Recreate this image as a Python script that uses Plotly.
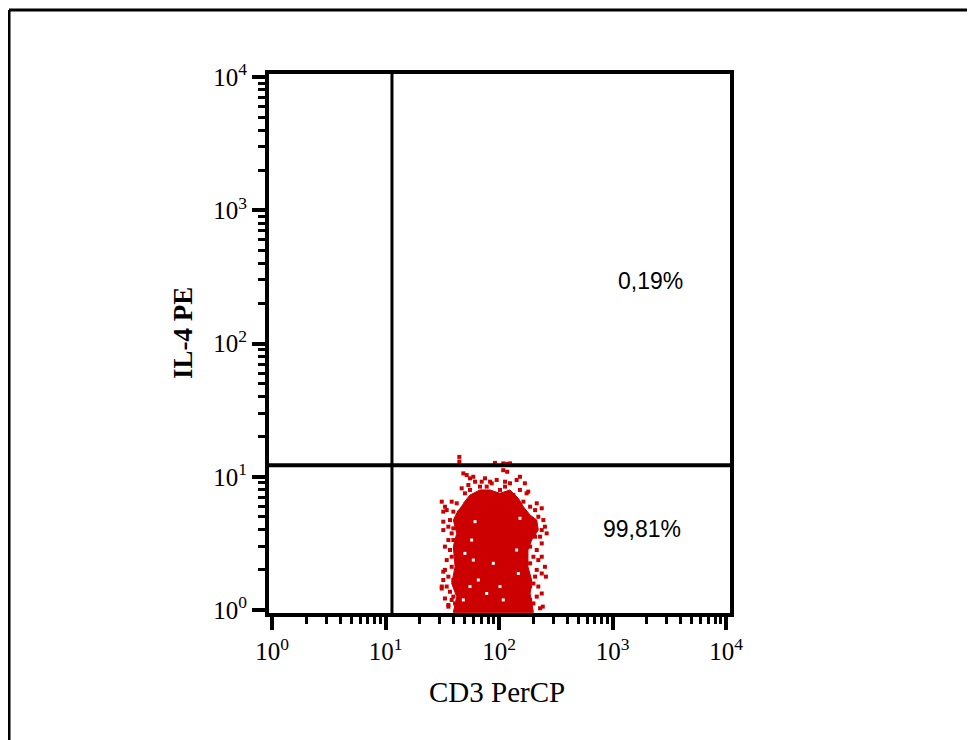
import math
import plotly.graph_objects as go

# ---- data ----
# dense core of the event cloud (outline), CD3 PerCP vs IL-4 PE intensities
core_cd3 = [48.5, 55.5, 68.0, 83.4, 102, 125, 148, 164, 188, 215, 222, 194, 180, 180, 194, 188, 201,
            39.6, 42.4, 38.3, 41.0, 39.6, 42.4, 39.6, 43.8]
core_il4 = [6.32, 7.29, 7.96, 7.96, 7.51, 7.96, 6.89, 5.96, 5.16, 4.73, 3.98, 3.35, 2.82, 2.11, 1.68, 1.33, 0.96,
            0.96, 1.26, 1.58, 2.11, 2.99, 3.76, 4.73, 5.62]
# scattered single events around the core
evt_cd3 = [44.7, 44.7, 92.2, 109, 118, 125, 109, 118, 51.9, 55.5, 61.5, 70.4, 83.4, 125, 153, 181, 50.1,
           55.5, 102, 134, 31.3, 33.4, 34.6, 39.6, 32.3, 37.0, 38.3, 37.0, 38.3, 33.4, 32.3, 34.6, 39.6,
           41.0, 215, 222, 246, 254, 230, 222, 254, 259, 238, 243, 208, 188, 188, 46.9, 153, 35.8, 31.3,
           48.5, 59.4, 75.3, 86.2, 95.4, 113, 143, 169, 68.0, 77.9, 113, 153, 175, 53.7, 46.9, 95.4, 121,
           138, 164,
           38.3, 42.4, 32.3, 43.8, 35.8, 32.3, 39.6, 35.8, 33.4, 39.6, 34.6, 38.3, 32.3, 35.8, 39.6, 31.3,
           37.0, 33.4, 38.3, 35.8, 42.4,
           188, 208, 238, 201, 238, 263, 208, 238, 188, 215, 201, 238, 188, 215, 238, 201, 222, 175, 215,
           201, 230]
evt_il4 = [14.1, 13.0, 12.7, 12.6, 12.5, 12.6, 11.2, 10.9, 10.3, 9.73, 9.18, 9.18, 9.18, 8.93, 10.0, 7.73, 7.51,
           7.96, 7.96, 7.29, 6.50, 5.96, 5.62, 5.47, 4.60, 4.73, 3.76, 2.82, 2.51, 2.00, 1.68, 1.50, 1.26,
           1.12, 6.32, 5.01, 4.73, 4.22, 3.55, 2.37, 2.11, 1.78, 1.33, 1.06, 1.78, 1.50, 1.19, 1.06, 1.06, 1.06, 1.50,
           10.6, 10.0, 9.73, 8.93, 9.46, 9.18, 9.46, 8.93, 8.43, 8.43, 8.43, 7.96, 7.51, 8.67, 8.19, 7.09, 6.89,
           6.50, 6.50,
           6.50, 6.32, 5.47, 5.16, 4.22, 3.98, 4.10, 3.35, 2.99, 3.35, 2.37, 2.11, 1.94, 1.78, 1.68, 1.45,
           1.37, 1.22, 1.19, 1.09, 1.06,
           5.96, 5.62, 5.80, 4.47, 3.98, 3.76, 3.55, 3.16, 2.99, 2.82, 2.51, 2.51, 2.24, 2.00, 1.88, 1.58, 1.50, 1.41,
           1.26, 1.12, 1.03]
# empty spots inside the dense core
gap_cd3 = [61.5, 57.4, 89.1, 50.1, 59.4, 153, 143, 148, 55.5, 77.9, 109, 48.5, 65.7, 102]
gap_il4 = [4.60, 3.35, 2.24, 2.66, 2.37, 4.88, 2.82, 1.88, 1.50, 1.33, 1.19, 1.19, 1.68, 1.50]

gate_cd3 = 11.4
gate_il4 = 12.2
quad_labels = ["0,19%", "99,81%"]
quad_cd3 = [2140, 1820]
quad_il4 = [295, 4.05]

tick_vals = [1, 10, 100, 1000, 10000]
tick_text = ["10<sup>0</sup>", "10<sup>1</sup>", "10<sup>2</sup>", "10<sup>3</sup>", "10<sup>4</sup>"]
minor_vals = [m * 10 ** k for k in range(4) for m in range(2, 10)]

RED = "#CC0000"
SERIF = "Liberation Serif, Times New Roman, serif"

fig = go.Figure()
fig.add_trace(go.Scatter(x=core_cd3, y=core_il4, mode="lines", fill="toself",
                         fillcolor=RED, line=dict(color=RED, width=1), hoverinfo="skip"))
fig.add_trace(go.Scatter(x=evt_cd3, y=evt_il4, mode="markers",
                         marker=dict(symbol="square", size=4, color=RED, line=dict(width=0))))
fig.add_trace(go.Scatter(x=gap_cd3, y=gap_il4, mode="markers",
                         marker=dict(symbol="square", size=3, color="white", line=dict(width=0))))
# quadrant gate lines
fig.add_trace(go.Scatter(x=[gate_cd3, gate_cd3], y=[0.5, 20000], mode="lines",
                         line=dict(color="black", width=3)))
fig.add_trace(go.Scatter(x=[0.5, 20000], y=[gate_il4, gate_il4], mode="lines",
                         line=dict(color="black", width=4)))

OFF = 8  # page body margin
L, R, T, B = 261, 245, 66, 127
W, H = 967, 732
pw, ph = W - L - R, H - T - B

def px(x):
    return (x - OFF - L) / pw

def py(y):
    return (H - B - (y - OFF)) / ph

axis_common = dict(
    type="log", showgrid=False, zeroline=False,
    showline=True, linecolor="black", linewidth=4, mirror=True,
    ticks="outside", ticklen=13, tickwidth=4, tickcolor="black",
    tickmode="array", tickvals=tick_vals, ticktext=tick_text,
    tickfont=dict(family=SERIF, size=25, color="black"),
    minor=dict(ticks="outside", ticklen=7, tickwidth=2.5, tickcolor="black",
               tickmode="array", tickvals=minor_vals),
)

fig.update_layout(
    width=W, height=H, autosize=False,
    margin=dict(l=L, r=R, t=T, b=B),
    paper_bgcolor="white", plot_bgcolor="white",
    showlegend=False,
    xaxis=dict(range=[-0.0264, 4.0352], **axis_common),
    yaxis=dict(range=[-0.0225, 4.0225], **axis_common),
    shapes=[
        dict(type="line", xref="paper", yref="paper", x0=px(9), x1=px(990), y0=py(10), y1=py(10),
             line=dict(color="black", width=3)),
        dict(type="line", xref="paper", yref="paper", x0=px(9), x1=px(9), y0=py(10), y1=py(760),
             line=dict(color="black", width=3)),
    ],
    annotations=[
        dict(text="CD3 PerCP", xref="paper", yref="paper", x=px(497), y=py(692),
             xanchor="center", yanchor="middle", showarrow=False,
             font=dict(family=SERIF, size=29, color="black")),
        dict(text="<b>IL-4 PE</b>", xref="paper", yref="paper", x=px(183), y=py(333),
             xanchor="center", yanchor="middle", showarrow=False, textangle=-90,
             font=dict(family=SERIF, size=27, color="black")),
    ] + [
        dict(text=t, x=math.log10(cx), y=math.log10(cy), xref="x", yref="y",
             showarrow=False, xanchor="center", yanchor="middle",
             font=dict(family="Liberation Sans, Arial, sans-serif", size=23, color="black"))
        for t, cx, cy in zip(quad_labels, quad_cd3, quad_il4)
    ],
)

fig.write_html("out.html")
